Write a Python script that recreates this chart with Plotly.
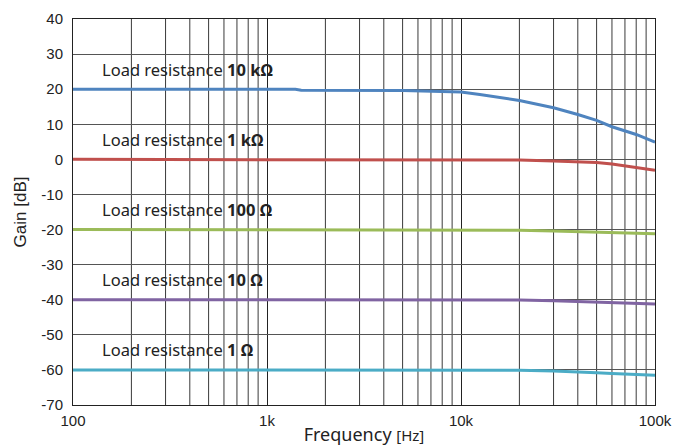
import plotly.graph_objects as go

freq = [100, 200, 500, 1000, 1400, 1500, 2000, 5000, 10000, 12500, 20000, 30000, 40000, 50000, 60000, 70000, 80000, 100000]
gain_10k = [20.0, 20.0, 20.0, 20.0, 20.0, 19.7, 19.7, 19.6, 19.2, 18.5, 16.8, 14.7, 12.8, 11.1, 9.3, 8.1, 7.1, 4.9]
gain_1k = [0.0, 0.0, 0.0, 0.0, 0.0, 0.0, 0.0, 0.0, 0.0, 0.0, -0.2, -0.5, -0.7, -0.9, -1.3, -1.8, -2.3, -3.1]
gain_100 = [-20.0, -20.0, -20.0, -20.0, -20.0, -20.0, -20.0, -20.0, -20.0, -20.0, -20.2, -20.4, -20.6, -20.7, -20.8, -20.9, -21.0, -21.2]
gain_10 = [-40.0, -40.0, -40.0, -40.0, -40.0, -40.0, -40.0, -40.0, -40.0, -40.0, -40.1, -40.3, -40.5, -40.7, -40.8, -40.9, -41.0, -41.2]
gain_1 = [-60.0, -60.0, -60.0, -60.0, -60.0, -60.0, -60.0, -60.0, -60.0, -60.0, -60.1, -60.3, -60.5, -60.8, -61.0, -61.1, -61.3, -61.5]

series_names = ["10 kΩ", "1 kΩ", "100 Ω", "10 Ω", "1 Ω"]
series_values = [gain_10k, gain_1k, gain_100, gain_10, gain_1]
series_levels = [20, 0, -20, -40, -60]
colors = ["#4f84bf", "#c0504d", "#9bbb59", "#8064a2", "#4bacc6"]

x_tickvals = [100, 1000, 10000, 100000]
x_ticktext = ["100", "1k", "10k", "100k"]
y_tickvals = list(range(-70, 41, 10))
y_ticktext = [str(v) for v in y_tickvals]

fig = go.Figure()
for name, vals, col in zip(series_names, series_values, colors):
    fig.add_trace(go.Scatter(x=freq, y=vals, mode="lines", name=name,
                             line=dict(color=col, width=3), showlegend=False))

# minor vertical grid lines (2..9 per decade)
minor = [m * d for d in (100, 1000, 10000) for m in range(2, 10)]
shapes = []
for f in minor:
    shapes.append(dict(type="line", xref="x", yref="paper", x0=f, x1=f, y0=0, y1=1,
                       line=dict(color="#3a3a3a", width=1), layer="below"))
fig.update_layout(shapes=shapes)

for name, lvl in zip(series_names, series_levels):
    fig.add_annotation(x=2.14, y=lvl + 1.9, xref="x", yref="y", xanchor="left", yanchor="bottom",
                       text="Load resistance <b>" + name + "</b>", showarrow=False,
                       font=dict(family="Noto Sans", size=16.5, color="#222"))

fig.update_layout(
    width=673, height=446,
    margin=dict(l=73, r=18, t=19, b=41),
    paper_bgcolor="white", plot_bgcolor="white",
    font=dict(family="Liberation Sans", size=15, color="#222"),
    xaxis=dict(type="log", range=[2, 5], tickvals=x_tickvals, ticktext=x_ticktext,
               showgrid=True, gridcolor="#222", gridwidth=1, ticks="",
               showline=True, linecolor="#222", linewidth=1, mirror=True,
               zeroline=False, ticklabelstandoff=2, automargin=False,
               title=dict(text="Frequency <span style='font-size:15px'>[Hz]</span>",
                          font=dict(family="Noto Sans", size=18), standoff=1)),
    yaxis=dict(range=[-70, 40], tickvals=y_tickvals, ticktext=y_ticktext, showgrid=True,
               gridcolor="#555", gridwidth=1, ticks="", showline=True, linecolor="#222",
               linewidth=1, mirror=True, zeroline=False, automargin=False, ticklabelstandoff=6,
               title=dict(text="Gain [dB]", font=dict(family="Liberation Sans", size=17), standoff=10)),
)

fig.write_html("out.html", config={"displayModeBar": False},
               post_script="document.body.style.margin='0';document.body.style.overflow='hidden';")
